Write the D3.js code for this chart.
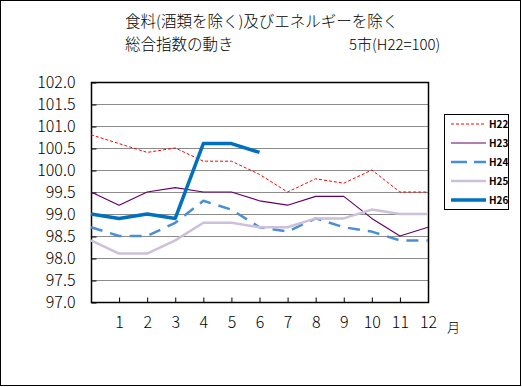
<!DOCTYPE html>
<html>
<head>
<meta charset="utf-8">
<script src="https://cdn.jsdelivr.net/npm/d3@7"></script>
<style>
  body { margin: 0; background: #fff; }
  text { font-family: "Noto Sans CJK JP", sans-serif; }
</style>
</head>
<body>
<svg id="canvas" width="522" height="387"></svg>
<script>
// data (13 points: position 0 plus months 1..12)
var months = d3.range(0, 13);
var monthLabels = ['1','2','3','4','5','6','7','8','9','10','11','12'];
var yTicks = [97.0, 97.5, 98.0, 98.5, 99.0, 99.5, 100.0, 100.5, 101.0, 101.5, 102.0];

var h22 = [100.8, 100.6, 100.4, 100.5, 100.2, 100.2, 99.9, 99.5, 99.8, 99.7, 100.0, 99.5, 99.5];
var h23 = [99.5, 99.2, 99.5, 99.6, 99.5, 99.5, 99.3, 99.2, 99.4, 99.4, 98.9, 98.5, 98.7];
var h24 = [98.7, 98.5, 98.5, 98.8, 99.3, 99.1, 98.7, 98.6, 98.9, 98.7, 98.6, 98.4, 98.4];
var h25 = [98.4, 98.1, 98.1, 98.4, 98.8, 98.8, 98.7, 98.7, 98.9, 98.9, 99.1, 99.0, 99.0];
var h26 = [99.0, 98.9, 99.0, 98.9, 100.6, 100.6, 100.4];

var seriesNames = ['H22', 'H23', 'H24', 'H25', 'H26'];

var svg = d3.select('#canvas');

// ************************************************************ //
// frame + title

svg.append('rect').attr('x', 0.5).attr('y', 0.5).attr('width', 520).attr('height', 385)
  .style('fill', '#fff').style('stroke', '#000').style('stroke-width', 1);

svg.append('text').attr('x', 125).attr('y', 27).style('font-size', '15.5px').style('font-weight', 300).text('食料(酒類を除く)及びエネルギーを除く');
svg.append('text').attr('x', 125).attr('y', 50).style('font-size', '15.5px').style('font-weight', 300).text('総合指数の動き');
svg.append('text').attr('x', 349).attr('y', 50).style('font-size', '15px').style('font-weight', 300).text('5市(H22=100)');

// ************************************************************ //
// scales

var plot = { left: 91, right: 428, top: 82, bottom: 302 };
var x = d3.scaleLinear().domain([0, 12]).range([plot.left, plot.right]);
var y = d3.scaleLinear().domain([97, 102]).range([plot.bottom, plot.top]);

var g = svg.append('g');

// gridlines
g.selectAll('.grid').data(yTicks.slice(1, -1)).enter().append('line')
  .attr('x1', plot.left).attr('x2', plot.right)
  .attr('y1', d => Math.round(y(d)) + 0.5).attr('y2', d => Math.round(y(d)) + 0.5)
  .style('stroke', '#8c8c8c').style('stroke-width', 1);

// axes with inner ticks
var yAxis = g.append('g').attr('transform', 'translate(' + (plot.left + 0.5) + ',0.5)')
  .call(d3.axisLeft(y).tickValues(yTicks).tickSize(-5).tickPadding(16).tickFormat(d3.format('.1f')));
var xAxis = g.append('g').attr('transform', 'translate(0,' + (plot.bottom + 0.5) + ')')
  .call(d3.axisBottom(x).tickValues(d3.range(1, 13)).tickSize(-5).tickPadding(14).tickFormat((d, i) => monthLabels[i]));

[yAxis, xAxis].forEach(a => {
  a.select('.domain').remove();
  a.selectAll('line').style('stroke', '#000');
  a.selectAll('text').style('font-size', '16px').style('font-weight', 300)
    .style('font-family', '"Noto Sans CJK JP", sans-serif').style('fill', '#000');
});

g.append('rect').attr('x', plot.left + 0.5).attr('y', plot.top + 0.5)
  .attr('width', plot.right - plot.left).attr('height', plot.bottom - plot.top)
  .style('fill', 'none').style('stroke', '#000').style('stroke-width', 1.5);

svg.append('text').attr('x', 447).attr('y', 332).style('font-size', '13px').style('font-weight', 300).text('月');

// ************************************************************ //
// series

var styles = {
  H22: { stroke: '#ff0000', width: 1, dash: '3,2' },
  H23: { stroke: '#660066', width: 1.2, dash: null },
  H24: { stroke: '#4a8fd6', width: 2.5, dash: '12,8' },
  H25: { stroke: '#ccc0da', width: 2.5, dash: null },
  H26: { stroke: '#0070c0', width: 3.5, dash: null }
};
var values = { H22: h22, H23: h23, H24: h24, H25: h25, H26: h26 };

var line_gen = d3.line().x((d, i) => x(months[i])).y(d => y(d));

seriesNames.forEach(name => {
  var s = styles[name];
  g.append('path').attr('d', line_gen(values[name]))
    .style('fill', 'none').style('stroke', s.stroke).style('stroke-width', s.width)
    .style('stroke-dasharray', s.dash).style('stroke-linejoin', 'round');
});

// ************************************************************ //
// legend

var legend = svg.append('g');
legend.append('rect').attr('x', 444.5).attr('y', 114.5).attr('width', 64).attr('height', 95)
  .style('fill', '#fff').style('stroke', '#000').style('stroke-width', 1);

seriesNames.forEach((name, i) => {
  var s = styles[name];
  var ly = 124 + i * 19;
  legend.append('line').attr('x1', 451).attr('x2', 486).attr('y1', ly).attr('y2', ly)
    .style('stroke', s.stroke).style('stroke-width', s.width)
    .style('stroke-dasharray', name == 'H24' ? '16,7' : s.dash);
  legend.append('text').attr('x', 489).attr('y', ly + 4).style('font-size', '10px').style('font-weight', 'bold').text(name);
});
</script>
</body>
</html>
